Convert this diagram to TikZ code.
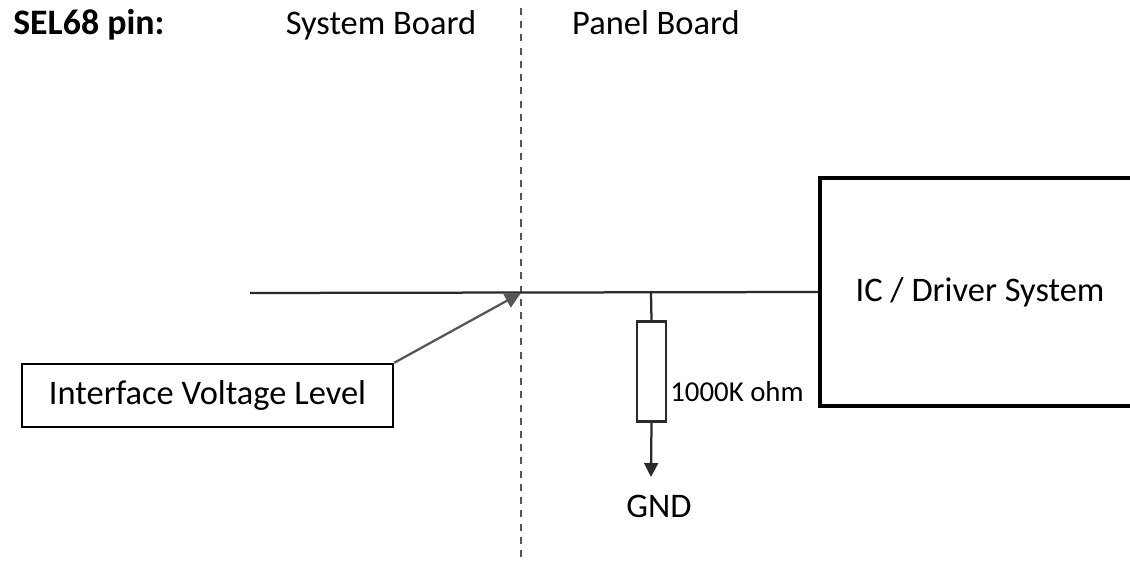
\documentclass[tikz,border=0pt]{standalone}
\usepackage{fontspec}
\setmainfont{Carlito}
\usepackage{xcolor}
\usetikzlibrary{arrows.meta,positioning}

\definecolor{wiregray}{HTML}{2A2A2A}
\definecolor{dashgray}{HTML}{555555}

\begin{document}
\begin{tikzpicture}[x=0.025cm,y=-0.025cm,
    txt/.style={font=\fontsize{24.5}{29}\selectfont,inner sep=0pt},
    smalltxt/.style={font=\fontsize{20.5}{24}\selectfont,inner sep=0pt},
    wire/.style={draw=wiregray,line width=1.6pt},
    block/.style={draw=black,line width=2.3pt,fill=white,inner sep=0pt}]
    \useasboundingbox (0,0) rectangle (1130,563);

    % Headings
    \node[txt,anchor=base west,font=\fontsize{25.5}{29}\selectfont\bfseries] (sel) at (13,35) {SEL68 pin:};
    \node[txt,anchor=base] (sysboard) at (381,35) {System Board};
    \node[txt,anchor=base] (panelboard) at (656,35) {Panel Board};

    % Board boundary
    \coordinate (bndtop) at (521,8);
    \coordinate (bndbot) at (521,562);
    \draw[dashgray,line width=1.8pt,dash pattern=on 5pt off 4.4pt] (bndtop) -- (bndbot);

    % IC block and signal line
    \node[block,txt,minimum width=8cm,minimum height=5.7cm] (ic) at (980,292) {IC / Driver System};
    \coordinate (start) at (250,293);
    \coordinate (junction) at (651,293);
    \coordinate (pin) at (521,293);
    \draw[wire] (start) -- (ic.west);

    % Pull-down resistor
    \node[draw=wiregray,line width=1.6pt,fill=white,minimum width=0.725cm,minimum height=2.5cm,inner sep=0pt] (res) at (651.5,371.5) {};
    \node[smalltxt,anchor=base west] (resval) at (670,401) {1000K ohm};
    \coordinate (gndtip) at (651,477);
    \node[txt,anchor=base] (gnd) at (659,517) {GND};
    \draw[wire] (junction) -- (res.north);
    \draw[wire,-{Triangle[length=0.35cm,width=0.35cm]}] (res.south) -- (gndtip);

    % Interface voltage label
    \node[block,txt,line width=1.8pt,minimum width=9.275cm,minimum height=1.575cm] (ivl) at (207.5,395.5) {Interface Voltage Level};
    \draw[dashgray,line width=1.6pt,-{Triangle[length=0.4cm,width=0.38cm]}] (ivl.north east) -- (pin);
\end{tikzpicture}
\end{document}
